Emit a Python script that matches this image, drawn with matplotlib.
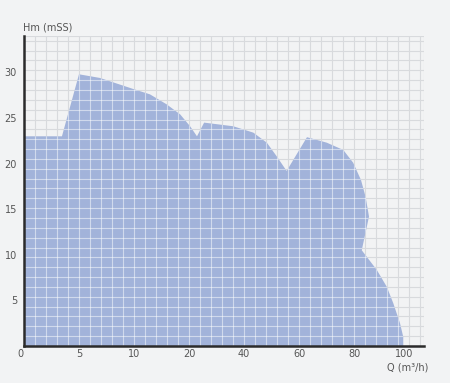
import matplotlib.pyplot as plt
from matplotlib.patches import Polygon
import numpy as np

# flow (m3/h) and head (mSS) outline of the working range
flow = [0, 3.45, 5, 6.9, 9.9, 12.9, 15.95, 18.4, 20.4, 22.9,
        25.5, 36.1, 43.4, 48.3, 51.9, 55.5,
        62.9, 70.1, 76.1, 79.7, 82.8, 84.6, 86.0,
        83.1, 89.1, 93.1, 95.7, 98.4, 99.7, 99.7, 0]
head = [23, 23, 29.8, 29.4, 28.2, 27.6, 26.5, 25.4, 24.1, 23.0,
        24.5, 24.1, 23.4, 22.3, 20.8, 19.2,
        22.9, 22.3, 21.5, 20.1, 18.2, 16.4, 14.2,
        10.5, 8.35, 6.5, 4.7, 2.5, 1.0, 0, 0]

x_ticks = [0, 5, 10, 20, 40, 60, 80, 100]
y_ticks = [5, 10, 15, 20, 25, 30]

# the Q axis is stretched piecewise: each labelled step gets the same width
q_pts = [0, 5, 10, 20, 40, 60, 80, 100, 120]
u_pts = [0, 1, 2, 3, 4, 5, 6, 6.909, 7.818]


def fwd(q):
    return np.interp(q, q_pts, u_pts)


def inv(u):
    return np.interp(u, u_pts, q_pts)


bg = "#f2f3f4"
fig = plt.figure(figsize=(4.5, 3.83), dpi=100, facecolor=bg)
ax = fig.add_axes([24 / 450, 37 / 383, 400 / 450, 310 / 383])
ax.set_facecolor(bg)
ax.set_xscale("function", functions=(fwd, inv))
ax.set_xlim(0, 108)
ax.set_ylim(0, 34)

# background grid
gx = inv(np.arange(0.2, 7.28, 0.2))
gy = np.arange(1.08, 34, 1.08)
for v in gx:
    ax.axvline(v, color="#d8dadd", lw=0.8, zorder=0)
for v in gy:
    ax.axhline(v, color="#d8dadd", lw=0.8, zorder=0)
ax.axvline(108, color="#d8dadd", lw=0.8, zorder=0)
ax.axhline(34, color="#d8dadd", lw=0.8, zorder=0)

poly = Polygon(np.column_stack([flow, head]), closed=True,
               facecolor="#a2b3da", edgecolor="none", zorder=1)
ax.add_patch(poly)

# lighter grid over the filled area
for v in gx:
    ln = ax.axvline(v, color="white", lw=0.8, alpha=0.5, zorder=2)
    ln.set_clip_path(poly)
for v in gy:
    ln = ax.axhline(v, color="white", lw=0.8, alpha=0.5, zorder=2)
    ln.set_clip_path(poly)

for side in ["top", "right"]:
    ax.spines[side].set_visible(False)
for side in ["left", "bottom"]:
    ax.spines[side].set_color("#2b2b2b")
    ax.spines[side].set_linewidth(1.8)

ax.set_xticks(x_ticks)
ax.set_xticklabels([str(t) for t in x_ticks])
ax.set_yticks(y_ticks)
ax.set_yticklabels([str(t) for t in y_ticks])
ax.tick_params(length=0, labelsize=7, labelcolor="#555555")
ax.tick_params(axis="x", pad=2)
ax.tick_params(axis="y", pad=5)
ax.xaxis.get_majorticklabels()[0].set_horizontalalignment("right")

fig.text(23 / 450, 1 - 28 / 383, "Hm (mSS)", fontsize=7, color="#555555",
         va="center", ha="left")
fig.text(428 / 450, 1 - 368 / 383, "Q (m³/h)", fontsize=7, color="#555555",
         va="center", ha="right")

fig.savefig("out.png", dpi=100, facecolor=bg)
